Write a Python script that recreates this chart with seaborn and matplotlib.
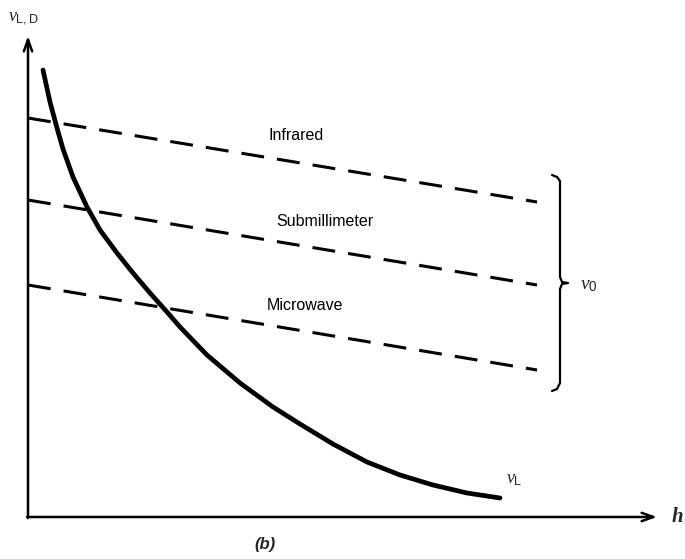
import numpy as np
import pandas as pd
import matplotlib
matplotlib.use("Agg")
import matplotlib.pyplot as plt
import seaborn as sns

sns.set_theme(style="white")
plt.rcParams['font.family'] = ['Liberation Sans', 'DejaVu Sans']
plt.rcParams['mathtext.fontset'] = 'custom'
plt.rcParams['mathtext.it'] = 'Liberation Serif:italic'
plt.rcParams['mathtext.rm'] = 'Liberation Sans'

# nu_L curve (schematic units)
h_curve = [15, 22, 29, 35, 45, 59, 72, 89, 105, 122, 139, 152, 179, 212, 245,
           272, 305, 339, 372, 405, 439, 472]
nuL_curve = [447, 415, 389, 368, 340, 310, 287, 264, 244, 224, 205, 190, 162, 134,
             110, 93, 73, 55, 42, 32, 24, 19]

# nu_0 bands (dashed lines): start and end values
band_names = ["Infrared", "Submillimeter", "Microwave"]
band_h = [0, 509]
band_start = [399, 317, 232]
band_end = [315, 232, 147]
band_label_pos = [(268, 382), (297, 295), (277, 211)]

fig = plt.figure(figsize=(6.85, 5.59), dpi=100)
ax = fig.add_axes([0, 0, 1, 1])
ax.set_xlim(-28, 657)
ax.set_ylim(-42, 517)
ax.axis('off')

df_curve = pd.DataFrame({"h": h_curve, "nu": nuL_curve})
sns.lineplot(data=df_curve, x="h", y="nu", sort=False, ax=ax, color="black",
             linewidth=3.4, solid_capstyle='round', solid_joinstyle='round')

for name, s, e, (lx, ly) in zip(band_names, band_start, band_end, band_label_pos):
    d = pd.DataFrame({"h": band_h, "nu": [s, e]})
    sns.lineplot(data=d, x="h", y="nu", ax=ax, color="black", linewidth=2.2,
                 linestyle=(0, (7.5, 4.3)), sort=False)
    ax.text(lx, ly, name, ha="center", va="center", fontsize=11.5, color="black")

# axes arrows
ax.annotate("", xy=(0, 481), xytext=(0, -1),
            arrowprops=dict(arrowstyle="->,head_length=0.7,head_width=0.25",
                            color="black", lw=1.8, shrinkA=0, shrinkB=0))
ax.annotate("", xy=(629, 0), xytext=(-1, 0),
            arrowprops=dict(arrowstyle="->,head_length=0.7,head_width=0.25",
                            color="black", lw=1.8, shrinkA=0, shrinkB=0))

# brace
bx = [524, 529, 532, 532, 534, 540, 534, 532, 532, 529, 524]
by = [342, 340, 336, 240, 235, 234, 233, 228, 134, 128, 126]
ax.plot(bx, by, color="black", lw=1.6, solid_joinstyle='round')

ax.text(-20, 498, r'$\nu_{\mathrm{L,D}}$', fontsize=13, ha="left", va="center")
ax.text(552, 232, r'$\nu_{\mathrm{0}}$', fontsize=14, ha="left", va="center")
ax.text(478, 37, r'$\nu_{\mathrm{L}}$', fontsize=13, ha="left", va="center")
ax.text(644, 0, "h", fontsize=15, ha="left", va="center", style="italic",
        fontweight="bold", family="Liberation Serif")
ax.text(237, -28, "(b)", fontsize=12, ha="center", va="center", style="italic",
        fontweight="bold")

fig.savefig("out.png", dpi=100)
